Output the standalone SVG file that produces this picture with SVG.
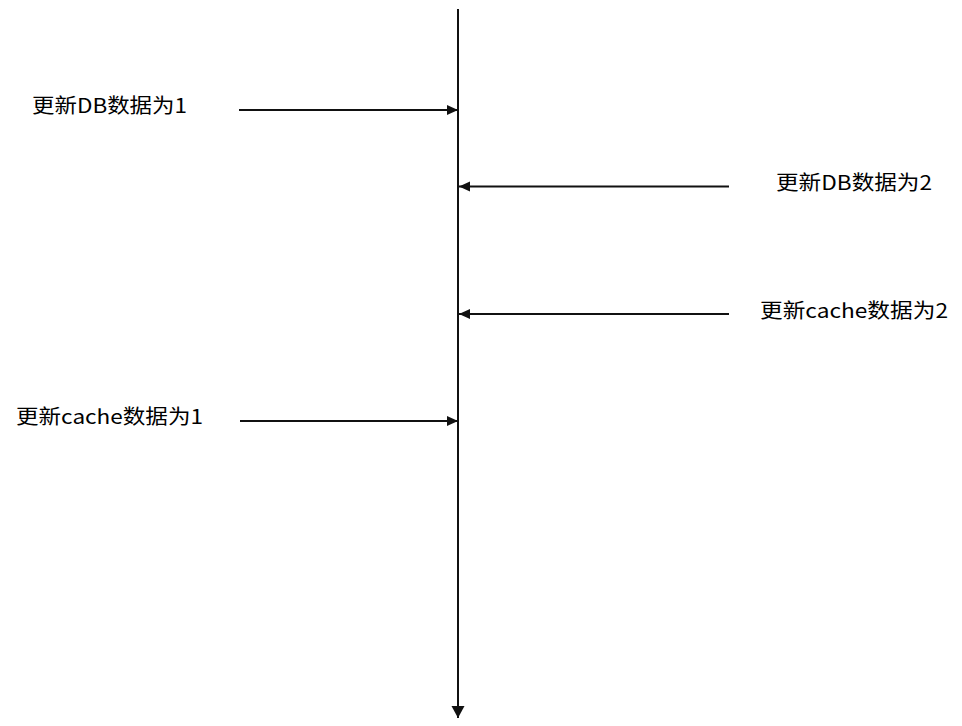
<svg xmlns="http://www.w3.org/2000/svg" width="962" height="726" viewBox="0 0 962 726">
<style>
.lbl{font-family:"Noto Sans CJK SC","Noto Sans",sans-serif;font-size:20px;fill:#000;}
.ln{stroke:#111;stroke-width:2;fill:none;}
</style>
<defs>
<marker id="ah" markerUnits="userSpaceOnUse" markerWidth="12" markerHeight="12" refX="11" refY="5" orient="auto">
<path d="M0,0 L11,5 L0,10 Z" fill="#111"/>
</marker>
<marker id="ahb" markerUnits="userSpaceOnUse" markerWidth="14" markerHeight="14" refX="12" refY="6.5" orient="auto">
<path d="M0,0 L12,6.5 L0,13 Z" fill="#111"/>
</marker>
</defs>
<rect width="962" height="726" fill="#fff"/>
<g id="connectors">
<line class="ln" x1="458" y1="9" x2="458" y2="718" marker-end="url(#ahb)"/>
<line class="ln" x1="239" y1="110" x2="458" y2="110" marker-end="url(#ah)"/>
<line class="ln" x1="729" y1="186.5" x2="459" y2="186.5" marker-end="url(#ah)"/>
<line class="ln" x1="729" y1="314" x2="459" y2="314" marker-end="url(#ah)"/>
<line class="ln" x1="240" y1="421" x2="458" y2="421" marker-end="url(#ah)"/>
</g>
<g id="label-db1"><text class="lbl" x="32" y="113" textLength="155" lengthAdjust="spacingAndGlyphs">更新DB数据为1</text></g>
<g id="label-db2"><text class="lbl" x="776" y="190" textLength="156" lengthAdjust="spacingAndGlyphs">更新DB数据为2</text></g>
<g id="label-cache2"><text class="lbl" x="760" y="318" textLength="188" lengthAdjust="spacingAndGlyphs">更新cache数据为2</text></g>
<g id="label-cache1"><text class="lbl" x="16" y="424" textLength="187" lengthAdjust="spacingAndGlyphs">更新cache数据为1</text></g>
</svg>
